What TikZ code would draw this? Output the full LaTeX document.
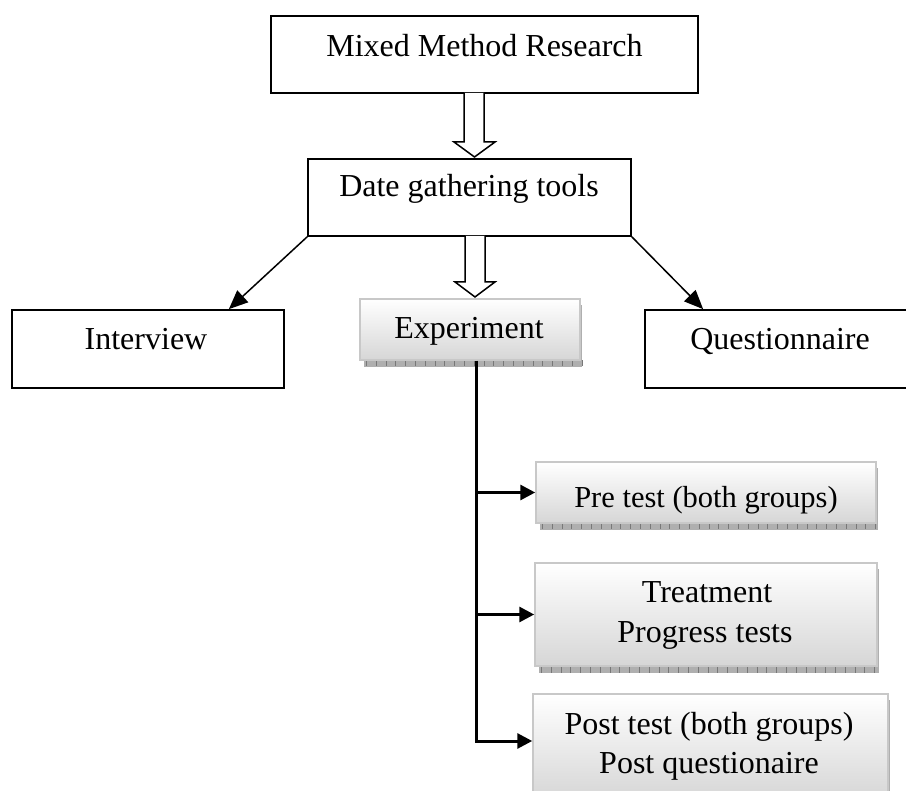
\documentclass[tikz,border=0pt]{standalone}
\usepackage{fontspec}
\setmainfont{Liberation Serif}
\usetikzlibrary{calc,arrows.meta}
\definecolor{shadebord}{RGB}{200,200,200}
\definecolor{shadebot}{RGB}{214,214,214}
\definecolor{shadowfill}{RGB}{175,175,175}
\definecolor{shadowtick}{RGB}{120,120,120}
\tikzset{
  plainbox/.style={draw=black, line width=1.7pt, rectangle, inner sep=0pt},
  shadebox/.style={draw=shadebord, line width=1.5pt, top color=white, bottom color=shadebot, rectangle, inner sep=0pt},
  txt/.style={anchor=base, inner sep=0pt, font=\fontsize{32}{38}\selectfont},
  thinarrow/.style={line width=1.5pt, -{Triangle[length=19pt,width=16pt]}},
  thickarrow/.style={line width=3pt, -{Triangle[length=15pt,width=15pt]}},
  hollow/.style={draw=black, line width=1.5pt, fill=white, line join=miter},
  shadowstrip/.style={fill=shadowfill},
  ticks/.style={draw=shadowtick, line width=6pt, dash pattern=on 0.8pt off 9pt}
}
\begin{document}
\begin{tikzpicture}[x=1pt,y=-1pt]
\useasboundingbox (0,0) rectangle (906,791);
\clip (0,0) rectangle (906,791);

% plain boxes
\node[plainbox, minimum width=427pt, minimum height=77pt] (mixed) at (484.5,54.5) {};
\node[plainbox, minimum width=323pt, minimum height=77pt] (date) at (469.5,197.5) {};
\node[plainbox, minimum width=272pt, minimum height=78pt] (interview) at (148,349) {};
\node[plainbox, minimum width=265pt, minimum height=78pt] (quest) at (777.5,349) {};

% shaded boxes with shadows
\foreach \cx/\cy/\w/\h/\nm in {470/329.5/220/61/exper, 706/492.5/340/61/pre, 706/614.5/342/103/treat, 710.5/747/355/106/post}{
  \fill[shadowstrip] (\cx-\w/2+4,\cy+\h/2) rectangle (\cx+\w/2+2,\cy+\h/2+7);
  \fill[shadowstrip] (\cx+\w/2,\cy-\h/2+6) rectangle (\cx+\w/2+2,\cy+\h/2+7);
  \draw[ticks] (\cx-\w/2+6,\cy+\h/2+3.5) -- (\cx+\w/2+2,\cy+\h/2+3.5);
  \node[shadebox, minimum width=\w pt, minimum height=\h pt] (\nm) at (\cx,\cy) {};
}

% texts
\node[txt] (tmixed) at (484.5,57) {Mixed Method Research};
\node[txt] (tdate) at (469,197) {Date gathering tools};
\node[txt] (tint) at (146,350) {Interview};
\node[txt] (texp) at (469,339) {Experiment};
\node[txt] (tquest) at (780,350) {Questionnaire};
\node[txt, font=\fontsize{30.5}{36}\selectfont] (tpre) at (706,508) {Pre test (both groups)};
\node[txt] (ttreat1) at (707,603) {Treatment};
\node[txt] (ttreat2) at (705,642) {Progress tests};
\node[txt] (tpost1) at (709,734) {Post test (both groups)};
\node[txt] (tpost2) at (709,773) {Post questionaire};

% hollow block arrows
\draw[hollow] (464,93) -- (464,142) -- (454,142) -- (474.5,157) -- (495,142) -- (484,142) -- (484,93);
\draw[hollow] (465,236) -- (465,282) -- (455,282) -- (475,297) -- (495,282) -- (485,282) -- (485,236);

% diagonal arrows
\draw[thinarrow] (date.south west) -- ($(interview.north east)+(-56,0)$);
\draw[thinarrow] (date.south east) -- ($(quest.north west)+(59,0)$);

% experiment tree
\coordinate (vtop) at ($(exper.south)+(6,0)$);
\coordinate (vbot) at (476,741);
\draw[line width=3pt] (vtop) -- ($(vbot)+(0,2)$);
\draw[thickarrow] (vtop |- pre.west) -- (pre.west);
\draw[thickarrow] (vtop |- treat.west) -- (treat.west);
\draw[thickarrow] (vbot) -- (vbot -| post.west);
\end{tikzpicture}
\end{document}
